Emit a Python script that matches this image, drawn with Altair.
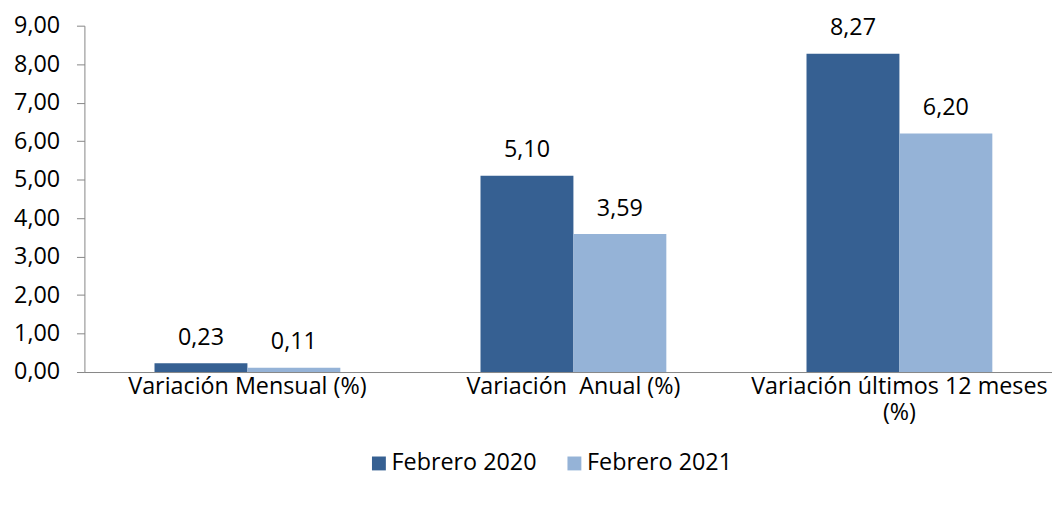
import altair as alt
import pandas as pd

categorias = ["Variación Mensual (%)", "Variación\u00a0 Anual (%)", "Variación últimos 12 meses (%)"]
series = ["Febrero 2020", "Febrero 2021"]
feb2020 = [0.23, 5.10, 8.27]
feb2021 = [0.11, 3.59, 6.20]
y_ticks = [0, 1, 2, 3, 4, 5, 6, 7, 8, 9]

rows = []
for i, c in enumerate(categorias):
    for s, vals in zip(series, [feb2020, feb2021]):
        v = vals[i]
        rows.append({"categoria": c, "serie": s, "valor": v,
                     "etiqueta": f"{v:.2f}".replace(".", ",")})
df = pd.DataFrame(rows)

FONT = "Open Sans"
FS = 23.5
AXIS_GRAY = "#868686"

color_scale = alt.Scale(domain=series, range=["#366092", "#95B3D7"])

x_enc = alt.X(
    "categoria:N", sort=categorias, title=None,
    scale=alt.Scale(range=[0, 985.5], paddingInner=0.43, paddingOuter=0.215),
    axis=alt.Axis(
        labelAngle=0, ticks=False, domainColor=AXIS_GRAY, domainWidth=1,
        labelFont=FONT, labelFontSize=FS, labelColor="#000000",
        labelPadding=3, labelLineHeight=26, labelLimit=0, labelOverlap=False,
        labelExpr="datum.value == 'Variación últimos 12 meses (%)' ? ['Variación últimos 12 meses', '(%)'] : datum.label",
    ),
)
xoff_enc = alt.XOffset("serie:N", sort=series, scale=alt.Scale(paddingInner=0, paddingOuter=0))
y_enc = alt.Y(
    "valor:Q", title=None,
    scale=alt.Scale(domain=[0, 9], nice=False),
    axis=alt.Axis(
        values=y_ticks, grid=False, tickSize=8, tickColor=AXIS_GRAY,
        domainColor=AXIS_GRAY, labelPadding=17,
        labelFont=FONT, labelFontSize=FS, labelColor="#000000",
        labelExpr="replace(format(datum.value, '.2f'), '.', ',')",
    ),
)

base = alt.Chart(df).encode(x=x_enc, xOffset=xoff_enc, y=y_enc)

bars = base.mark_bar().encode(
    color=alt.Color(
        "serie:N", scale=color_scale, sort=series,
        legend=alt.Legend(
            orient="none", legendX=285, legendY=429, direction="horizontal",
            title=None, symbolType="square", symbolSize=196, symbolStrokeWidth=0,
            labelFont=FONT, labelFontSize=FS, labelColor="#000000",
            columnPadding=26, labelOffset=1,
        ),
    )
)

labels = base.mark_text(dy=-18.5, baseline="alphabetic", font=FONT, fontSize=FS, color="#000000").encode(
    text="etiqueta:N"
)

chart = (
    alt.layer(bars, labels)
    .properties(
        width=975, height=349,
        padding={"left": 77, "top": 16, "right": 0, "bottom": 110},
        autosize=alt.AutoSizeParams(type="none"),
    )
    .configure_view(stroke=None)
)

chart.save("out.html", embed_options={"renderer": "svg", "actions": False})
